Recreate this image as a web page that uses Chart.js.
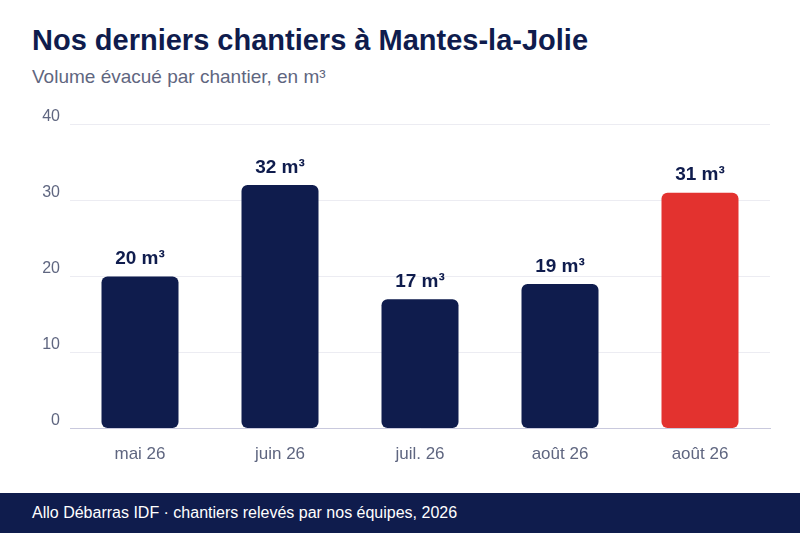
<!DOCTYPE html>
<html lang="fr">
<head>
<meta charset="UTF-8">
<title>Chantiers Mantes-la-Jolie</title>
<script src="https://cdn.jsdelivr.net/npm/chart.js"></script>
<style>
  body { margin: 0; width: 800px; height: 533px; background: #fff; font-family: "Liberation Sans", Arial, sans-serif; position: relative; overflow: hidden; }
  h1 { position: absolute; left: 32px; top: 24px; margin: 0; font-size: 29px; color: #0f1c4d; font-weight: bold; }
  .sub { position: absolute; left: 32px; top: 66px; font-size: 19px; color: #5f6680; }
  .wrap { position: absolute; left: 0; top: 95px; width: 800px; height: 398px; }
  footer { position: absolute; left: 0; top: 493px; width: 800px; height: 40px; background: #0f1c4d; color: #fff; font-size: 16px; line-height: 40px; padding-left: 32px; box-sizing: border-box; }
</style>
</head>
<body>
<h1>Nos derniers chantiers à Mantes-la-Jolie</h1>
<div class="sub">Volume évacué par chantier, en m³</div>
<div class="wrap"><canvas id="c"></canvas></div>
<footer>Allo Débarras IDF · chantiers relevés par nos équipes, 2026</footer>
<script>
var months = ['mai 26', 'juin 26', 'juil. 26', 'août 26', 'août 26'];
var volumes = [20, 32, 17, 19, 31];
var barColors = ['#0f1c4d', '#0f1c4d', '#0f1c4d', '#0f1c4d', '#e3322f'];

// draw "xx m³" above each bar
var valueLabels = {
  id: 'valueLabels',
  afterDatasetsDraw: function (chart) {
    var ctx = chart.ctx;
    var meta = chart.getDatasetMeta(0);
    ctx.save();
    ctx.font = 'bold 19px "Liberation Sans", Arial, sans-serif';
    ctx.fillStyle = '#0f1c4d';
    ctx.textAlign = 'center';
    ctx.textBaseline = 'bottom';
    meta.data.forEach(function (bar, i) {
      ctx.fillText(volumes[i] + ' m³', bar.x, bar.y - 8);
    });
    ctx.restore();
  }
};

new Chart(document.getElementById('c'), {
  type: 'bar',
  data: {
    labels: months,
    datasets: [{
      data: volumes,
      backgroundColor: barColors,
      borderRadius: 6,
      borderSkipped: false,
      categoryPercentage: 0.55,
      barPercentage: 1
    }]
  },
  options: {
    responsive: true,
    maintainAspectRatio: false,
    animation: false,
    layout: { padding: { top: 15, right: 30, bottom: 20, left: 0 } },
    plugins: { legend: { display: false }, tooltip: { enabled: false } },
    scales: {
      x: {
        grid: { display: false },
        border: { color: '#c9c9dd' },
        ticks: { color: '#5f6680', font: { size: 17, family: '"Liberation Sans", Arial' }, padding: 8 }
      },
      y: {
        min: 0, max: 40,
        ticks: { stepSize: 10, color: '#5f6680', font: { size: 16, family: '"Liberation Sans", Arial' }, padding: 10, align: 'end' },
        grid: { color: '#ececf2', drawTicks: false },
        border: { display: false },
        afterFit: function (s) { s.width = 70; }
      }
    }
  },
  plugins: [valueLabels]
});
</script>
</body>
</html>
